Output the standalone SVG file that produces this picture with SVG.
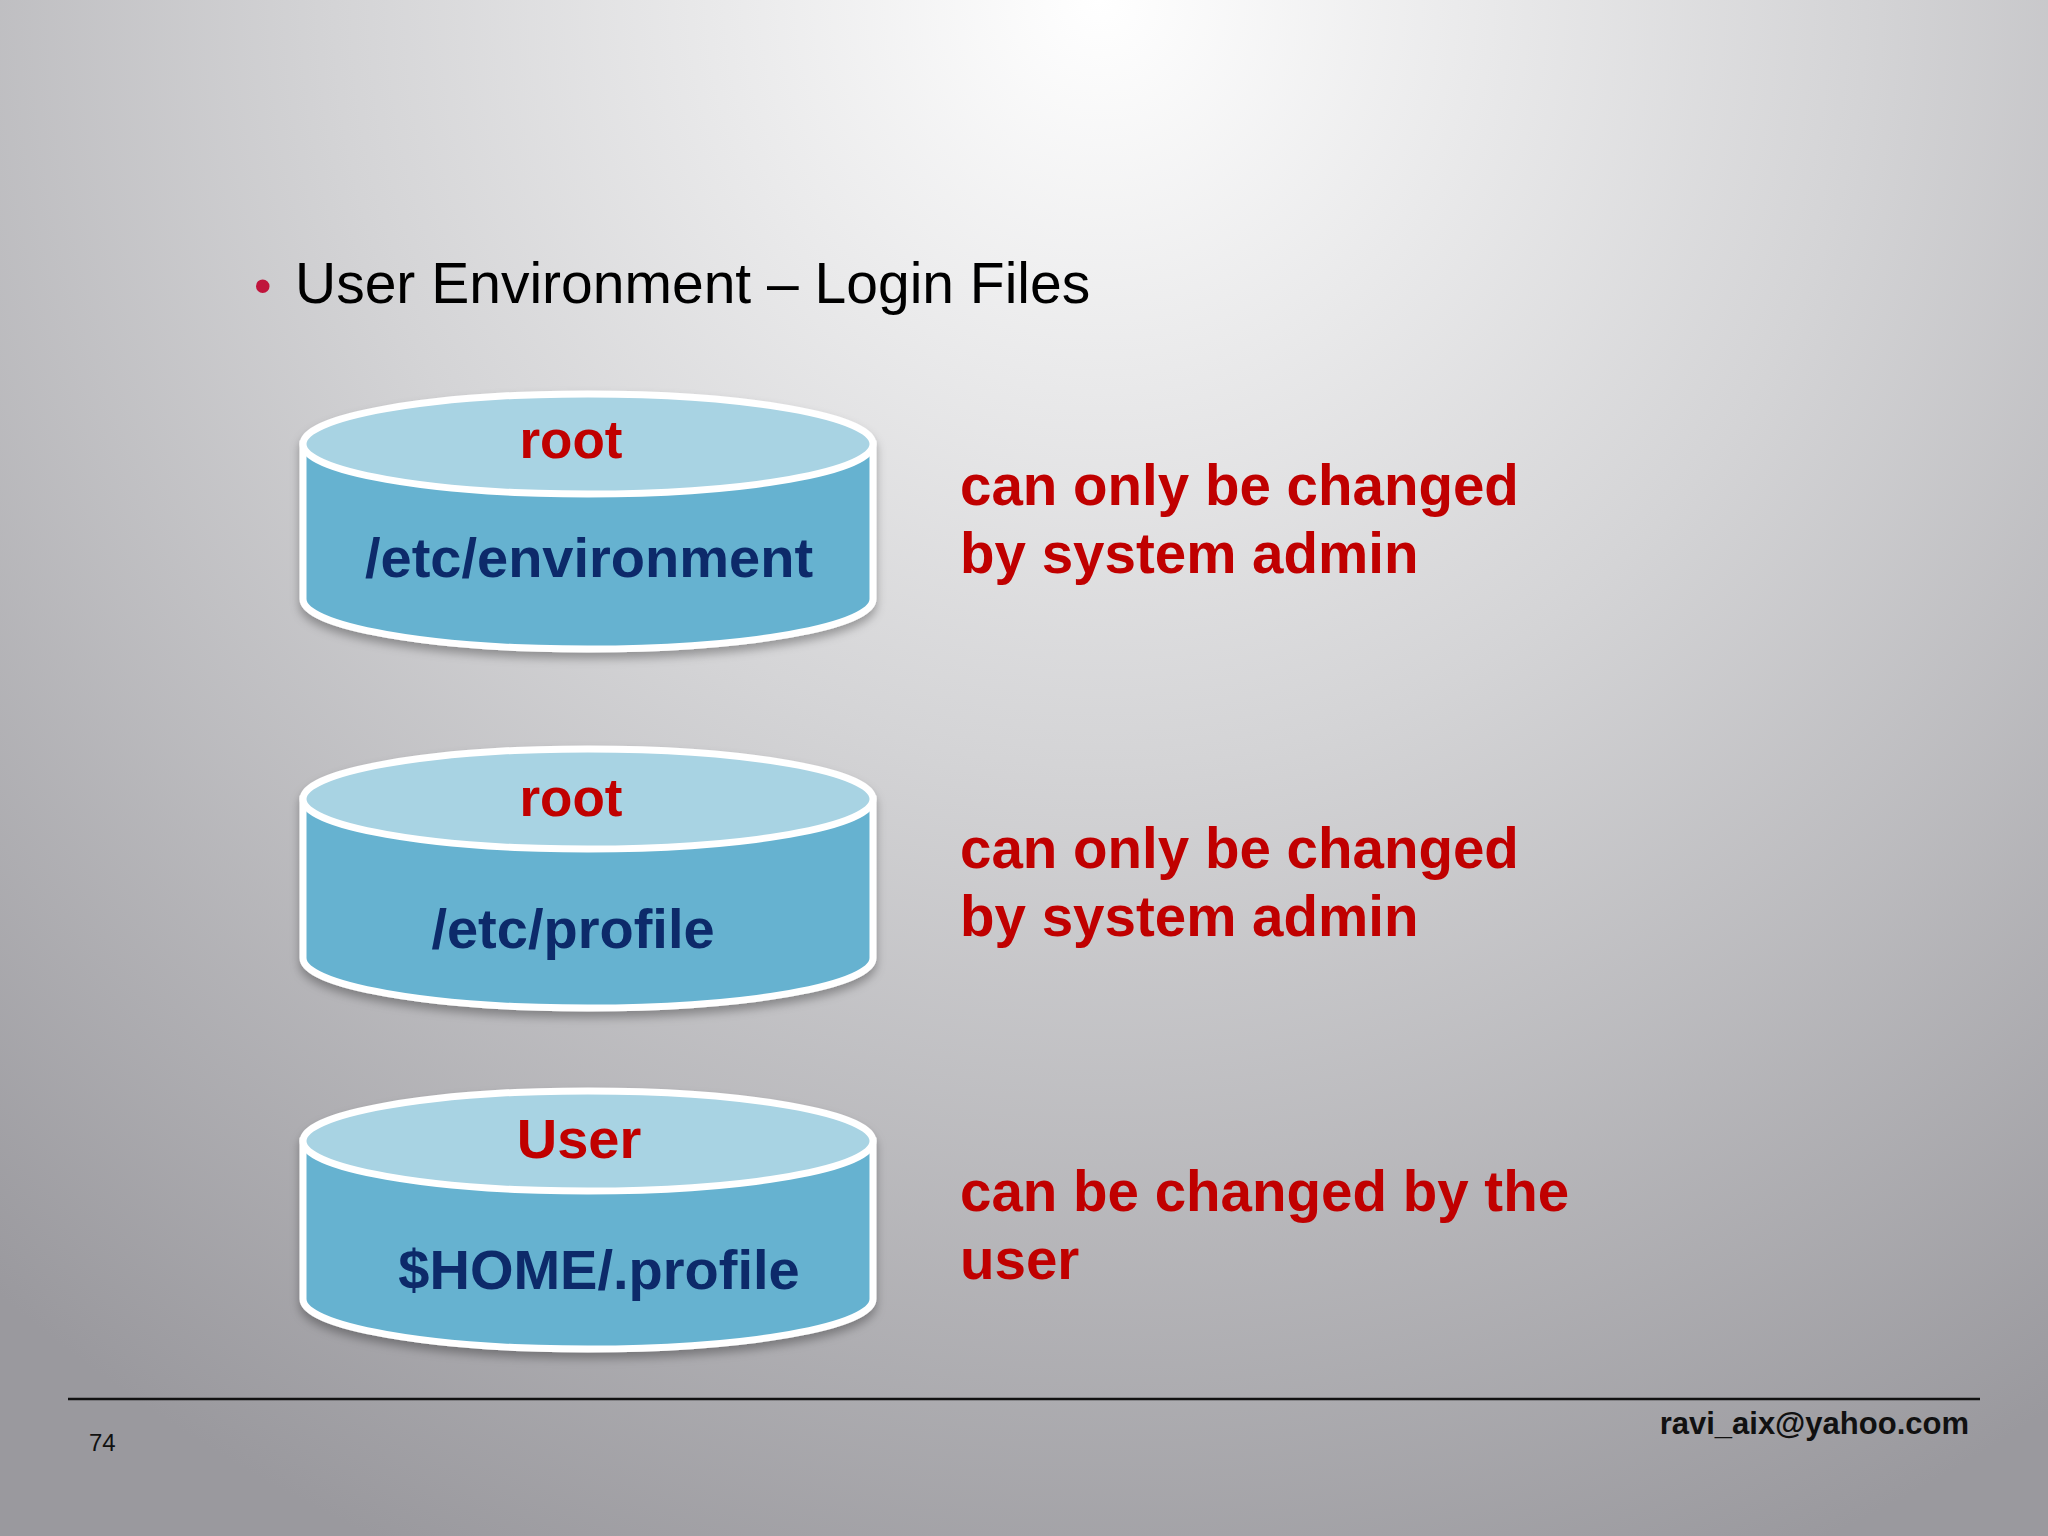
<svg xmlns="http://www.w3.org/2000/svg" width="2048" height="1536" viewBox="0 0 2048 1536">
<defs>
<radialGradient id="bg" cx="1100" cy="0" r="1700" gradientUnits="userSpaceOnUse">
<stop offset="0" stop-color="#ffffff"/><stop offset="0.45" stop-color="#d4d4d6"/><stop offset="1" stop-color="#9a999e"/>
</radialGradient>
<filter id="sh" x="-10%" y="-10%" width="120%" height="130%"><feDropShadow dx="0" dy="6" stdDeviation="5" flood-color="#000" flood-opacity="0.3"/></filter>
</defs>
<style>
.body{fill:#66b2d0;stroke:#fff;stroke-width:7}
.top{fill:#a8d3e3;stroke:#fff;stroke-width:7}
.lab{font-family:"Liberation Sans",Arial,sans-serif;font-weight:bold;text-anchor:middle}
.red{fill:#c00000}
.navy{fill:#0b2b6b}
.note{font-family:"Liberation Sans",Arial,sans-serif;font-weight:bold;font-size:56.5px;fill:#c00000}
</style>
<rect width="2048" height="1536" fill="url(#bg)"/>
<text x="254" y="303" font-family="Liberation Sans,Arial,sans-serif" font-size="50" fill="#c0143c">•</text>
<text x="295" y="303" font-family="Liberation Sans,Arial,sans-serif" font-size="57" fill="#000">User Environment – Login Files</text>
<g id="cyl1" filter="url(#sh)">
<path class="body" d="M303 444 V599 A285 50 0 0 0 873 599 V444 Z"/>
<ellipse class="top" cx="588" cy="444" rx="285" ry="50"/>
<text class="lab red" x="571" y="458" font-size="53">root</text>
<text class="lab navy" x="589" y="577" font-size="56">/etc/environment</text>
</g>
<g id="cyl2" filter="url(#sh)">
<path class="body" d="M303 799 V958 A285 50 0 0 0 873 958 V799 Z"/>
<ellipse class="top" cx="588" cy="799" rx="285" ry="50"/>
<text class="lab red" x="571" y="816" font-size="53">root</text>
<text class="lab navy" x="573" y="948" font-size="56">/etc/profile</text>
</g>
<g id="cyl3" filter="url(#sh)">
<path class="body" d="M303 1141 V1299 A285 50 0 0 0 873 1299 V1141 Z"/>
<ellipse class="top" cx="588" cy="1141" rx="285" ry="50"/>
<text class="lab red" x="579" y="1158" font-size="56">User</text>
<text class="lab navy" x="599" y="1289" font-size="56">$HOME/.profile</text>
</g>
<g id="notes">
<text class="note" x="960" y="505">can only be changed</text>
<text class="note" x="960" y="573">by system admin</text>
<text class="note" x="960" y="868">can only be changed</text>
<text class="note" x="960" y="936">by system admin</text>
<text class="note" x="960" y="1211">can be changed by the</text>
<text class="note" x="960" y="1279">user</text>
</g>
<g id="connectors"></g>
<line x1="68" y1="1399" x2="1980" y2="1399" stroke="#111" stroke-width="2.5"/>
<text x="89" y="1451" font-family="Liberation Sans,Arial,sans-serif" font-size="24" fill="#111">74</text>
<text x="1969" y="1434" text-anchor="end" font-family="Liberation Sans,Arial,sans-serif" font-weight="bold" font-size="31" fill="#111">ravi_aix@yahoo.com</text>
</svg>
